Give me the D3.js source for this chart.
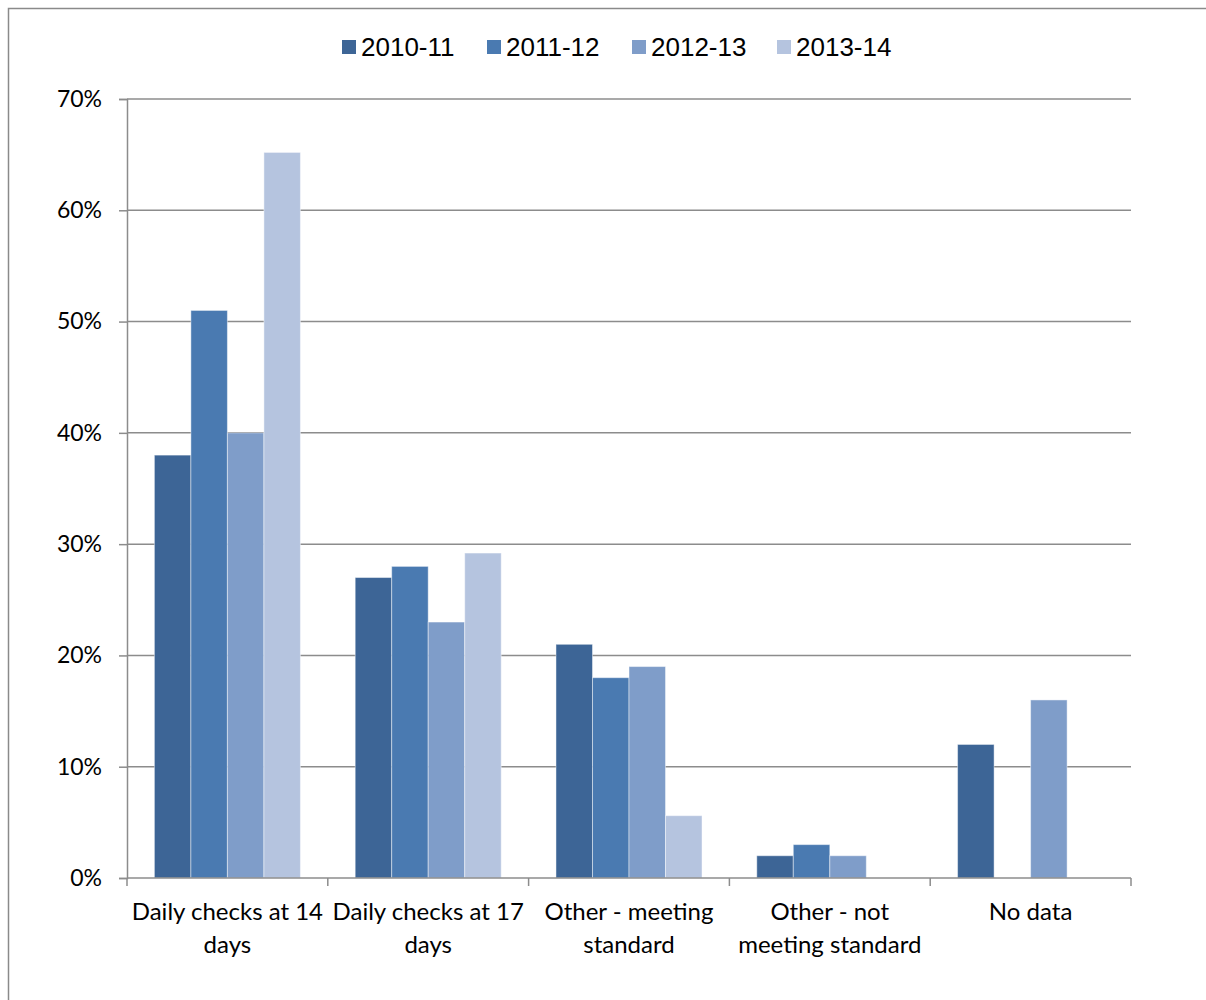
<!DOCTYPE html>
<html>
<head>
<meta charset="utf-8">
<script src="https://cdn.jsdelivr.net/npm/d3@7"></script>
<style>
  html, body { margin: 0; padding: 0; background: #fff; }
  svg { display: block; }
</style>
</head>
<body>
<svg id="chart" width="1206" height="1000"></svg>
<script>
// Category labels (two lines each) and series
const categories = [
  ["Daily checks at 14", "days"],
  ["Daily checks at 17", "days"],
  ["Other - meeting", "standard"],
  ["Other - not", "meeting standard"],
  ["No data"]
];
const seriesNames = ["2010-11", "2011-12", "2012-13", "2013-14"];
const values2010 = [38, 27, 21, 2, 12];
const values2011 = [51, 28, 18, 3, null];
const values2012 = [40, 23, 19, 2, 16];
const values2013 = [65.2, 29.2, 5.6, null, null];
const yTicks = [0, 10, 20, 30, 40, 50, 60, 70];
const colors = ["#3D6596", "#4A7AB1", "#7F9DC9", "#B5C4DF"];

const seriesValues = [values2010, values2011, values2012, values2013];

const svg = d3.select("#chart");

// outer frame (extends past right/bottom edges)
svg.append("rect")
  .attr("x", 8.5).attr("y", 8.5)
  .attr("width", 1210).attr("height", 1010)
  .attr("fill", "none").attr("stroke", "#8a8a8a").attr("stroke-width", 1.5);

const plotLeft = 127, plotRight = 1131, plotTop = 99, plotBottom = 878;

const x0 = d3.scaleBand()
  .domain(d3.range(categories.length))
  .range([plotLeft, plotRight])
  .padding(0);

const bw = x0.bandwidth();
const gap = bw * 1.5 / 5.5;
const x1 = d3.scaleBand()
  .domain(d3.range(seriesNames.length))
  .range([gap / 2, bw - gap / 2])
  .padding(0);

const y = d3.scaleLinear().domain([0, 70]).range([plotBottom, plotTop]);

// gridlines
svg.append("g")
  .selectAll("line")
  .data(yTicks.filter(d => d > 0))
  .join("line")
  .attr("x1", plotLeft).attr("x2", plotRight)
  .attr("y1", d => y(d)).attr("y2", d => y(d))
  .attr("stroke", "#8c8c8c").attr("stroke-width", 1.5);

// y axis
const yAxis = svg.append("g")
  .attr("transform", `translate(${plotLeft},0)`)
  .call(d3.axisLeft(y).tickValues(yTicks).tickFormat(d => d + "%").tickSize(8).tickPadding(17));
yAxis.select(".domain").attr("stroke", "#8c8c8c").attr("stroke-width", 1.5);
yAxis.selectAll(".tick line").attr("stroke", "#8c8c8c").attr("stroke-width", 1.5);
yAxis.selectAll(".tick text")
  .attr("font-family", "Lato, 'Open Sans', sans-serif")
  .attr("font-size", 23).attr("fill", "#000");

// bars
const rows = [];
categories.forEach((c, ci) => {
  seriesValues.forEach((vals, si) => {
    if (vals[ci] != null) rows.push({ ci, si, v: vals[ci] });
  });
});

svg.append("g")
  .selectAll("rect")
  .data(rows)
  .join("rect")
  .attr("x", d => x0(d.ci) + x1(d.si))
  .attr("y", d => y(d.v))
  .attr("width", x1.bandwidth())
  .attr("height", d => y(0) - y(d.v))
  .attr("fill", d => colors[d.si])
  .attr("stroke", "rgba(255,255,255,0.45)")
  .attr("stroke-width", 1);

// x axis line and boundary ticks
const xAxisG = svg.append("g");
xAxisG.append("line")
  .attr("x1", plotLeft).attr("x2", plotRight)
  .attr("y1", plotBottom).attr("y2", plotBottom)
  .attr("stroke", "#8c8c8c").attr("stroke-width", 1.5);
const bounds = d3.range(categories.length + 1).map(i => i < categories.length ? x0(i) : plotRight);
xAxisG.selectAll("line.tk")
  .data(bounds)
  .join("line")
  .attr("class", "tk")
  .attr("x1", d => d).attr("x2", d => d)
  .attr("y1", plotBottom).attr("y2", plotBottom + 8)
  .attr("stroke", "#8c8c8c").attr("stroke-width", 1.5);

// category labels
const lab = svg.append("g")
  .selectAll("text")
  .data(categories)
  .join("text")
  .attr("x", (d, i) => x0(i) + bw / 2)
  .attr("y", 920)
  .attr("text-anchor", "middle")
  .attr("font-family", "Lato, 'Open Sans', sans-serif")
  .attr("font-size", 24)
  .attr("fill", "#000");
lab.each(function(d, i) {
  const t = d3.select(this);
  d.forEach((line, li) => {
    t.append("tspan")
      .attr("x", x0(i) + bw / 2)
      .attr("dy", li === 0 ? 0 : 33)
      .text(line);
  });
});

// legend
const legend = svg.append("g");
const legX = [342, 487, 632, 777];
seriesNames.forEach((name, i) => {
  legend.append("rect")
    .attr("x", legX[i]).attr("y", 40)
    .attr("width", 14).attr("height", 14)
    .attr("fill", colors[i]);
  legend.append("text")
    .attr("x", legX[i] + 19).attr("y", 56)
    .attr("font-family", "'Liberation Sans', Arial, sans-serif")
    .attr("font-size", 26)
    .attr("fill", "#000")
    .text(name);
});
</script>
</body>
</html>
